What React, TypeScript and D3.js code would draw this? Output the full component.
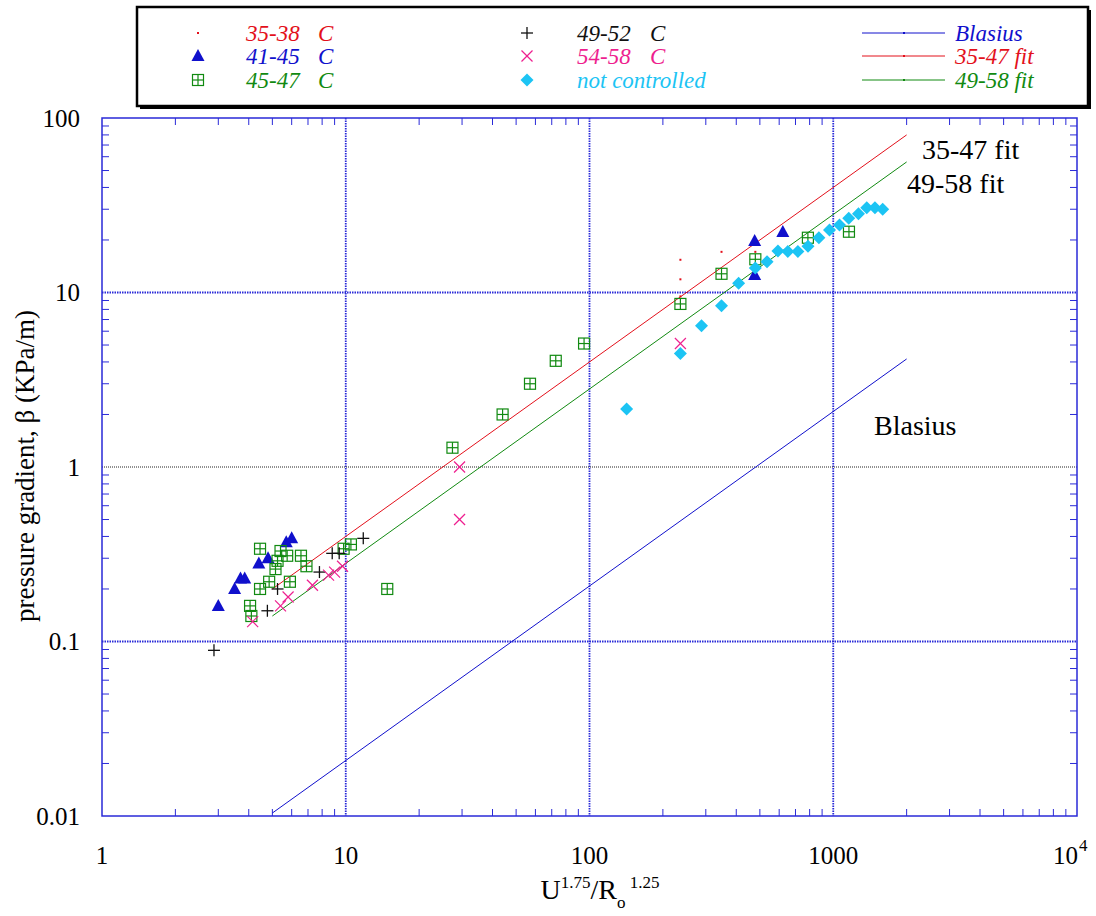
import * as d3 from 'd3';

// --- data ---
const dotX = [236, 236, 236, 348, 479];
const dotY = [15.4, 11.9, 9.5, 17.1, 17.1];

const triX = [3.0, 3.5, 3.7, 3.85, 4.4, 4.8, 5.7, 6.0, 476, 476, 621];
const triY = [0.16, 0.2, 0.23, 0.23, 0.28, 0.3, 0.37, 0.39, 19.7, 12.6, 22.2];

const sqX = [4.1, 4.05, 4.45, 4.45, 4.85, 5.15, 5.25, 5.4, 5.75, 5.9, 6.55, 6.9, 9.8, 10.5, 14.8,
  27.4, 44, 57, 72.7, 95, 236, 348, 479, 787, 1160];
const sqY = [0.14, 0.16, 0.34, 0.2, 0.22, 0.26, 0.29, 0.33, 0.31, 0.22, 0.31, 0.27, 0.34, 0.36, 0.2,
  1.29, 2.0, 3.0, 4.06, 5.1, 8.6, 12.8, 15.5, 20.6, 22.3];

const plusX = [2.88, 4.77, 5.25, 7.8, 8.8, 9.4, 11.8];
const plusY = [0.089, 0.15, 0.2, 0.25, 0.32, 0.32, 0.39];

const crossX = [4.15, 5.4, 5.8, 7.3, 8.5, 9.0, 9.7, 29.3, 29.3, 236];
const crossY = [0.13, 0.16, 0.18, 0.21, 0.24, 0.25, 0.27, 1.0, 0.5, 5.1];

const diaX = [142, 236, 288, 348, 409, 479, 535, 593, 651, 716, 788, 873, 965, 1061, 1158, 1269, 1372, 1483, 1595];
const diaY = [2.15, 4.47, 6.44, 8.4, 11.3, 13.8, 15.0, 17.3, 17.2, 17.2, 18.4, 20.6, 22.8, 24.4, 26.6, 28.3, 30.6, 30.6, 30.0];

const fitX = [5, 2000];
const fit3547 = [0.2, 80];
const fit4958 = [0.14, 56];
const blasius = [0.0104, 4.16];

const xTicks = [1, 10, 100, 1000];
const yTicks = [0.01, 0.1, 1, 10, 100];

const RED = '#e3101b';
const BLUE = '#1010cc';
const GREEN = '#118a11';
const PINK = '#ee1f8f';
const CYAN = '#1cc4f4';
const AXIS = '#2a2ad8';
const SERIF = "'Liberation Serif', 'Times New Roman', 'DejaVu Serif', serif";
const font = (size: number, italic = false) => ({ fontFamily: SERIF, fontSize: size, fontStyle: italic ? 'italic' : 'normal' });

function Marker({ type, cx, cy }: { type: string; cx: number; cy: number }) {
  if (type === 'dot') return <rect x={cx - 1} y={cy - 1} width={2} height={2} fill={RED} />;
  if (type === 'tri')
    return <polygon points={`${cx},${cy - 7} ${cx - 6.5},${cy + 5} ${cx + 6.5},${cy + 5}`} fill={BLUE} />;
  if (type === 'sq')
    return (
      <g stroke={GREEN} strokeWidth={1.2} fill="none">
        <rect x={cx - 5.5} y={cy - 5.5} width={11} height={11} />
        <line x1={cx} y1={cy - 5.5} x2={cx} y2={cy + 5.5} />
        <line x1={cx - 5.5} y1={cy} x2={cx + 5.5} y2={cy} />
      </g>
    );
  if (type === 'plus')
    return (
      <g stroke="#111" strokeWidth={1.3}>
        <line x1={cx - 6} y1={cy} x2={cx + 6} y2={cy} />
        <line x1={cx} y1={cy - 6} x2={cx} y2={cy + 6} />
      </g>
    );
  if (type === 'x')
    return (
      <g stroke={PINK} strokeWidth={1.2}>
        <line x1={cx - 5.5} y1={cy - 5.5} x2={cx + 5.5} y2={cy + 5.5} />
        <line x1={cx - 5.5} y1={cy + 5.5} x2={cx + 5.5} y2={cy - 5.5} />
      </g>
    );
  return <polygon points={`${cx},${cy - 6.5} ${cx + 6.5},${cy} ${cx},${cy + 6.5} ${cx - 6.5},${cy}`} fill={CYAN} />;
}

export default function App() {
  const L = 102, R = 1077, T = 118, B = 816;
  const x = d3.scaleLog().domain([1, 1e4]).range([L, R]);
  const y = d3.scaleLog().domain([0.01, 100]).range([B, T]);

  const minorX: number[] = [];
  [1, 10, 100, 1000].forEach(d => { for (let k = 2; k <= 9; k++) minorX.push(d * k); });
  const minorY: number[] = [];
  [0.01, 0.1, 1, 10].forEach(d => { for (let k = 2; k <= 9; k++) minorY.push(d * k); });

  const line = d3.line<number>().x((d, i) => x(fitX[i])).y(d => y(d));

  const series = [
    { type: 'dot', xs: dotX, ys: dotY },
    { type: 'tri', xs: triX, ys: triY },
    { type: 'sq', xs: sqX, ys: sqY },
    { type: 'plus', xs: plusX, ys: plusY },
    { type: 'x', xs: crossX, ys: crossY },
    { type: 'dia', xs: diaX, ys: diaY },
  ];

  const legendLeft = [
    { type: 'dot', label: '35-38', color: RED },
    { type: 'tri', label: '41-45', color: BLUE },
    { type: 'sq', label: '45-47', color: GREEN },
  ];
  const legendMid = [
    { type: 'plus', label: '49-52', color: '#111', c: true },
    { type: 'x', label: '54-58', color: PINK, c: true },
    { type: 'dia', label: 'not controlled', color: CYAN, c: false },
  ];
  const legendLines = [
    { label: 'Blasius', color: BLUE },
    { label: '35-47 fit', color: RED },
    { label: '49-58 fit', color: GREEN },
  ];
  const rowY = [33, 56, 80];

  return (
    <svg width={1096} height={916} style={{ position: 'absolute', left: 0, top: 0, background: '#fff' }}>
      {/* legend box */}
      <rect x={140} y={10} width={951} height={99} fill="#000" />
      <rect x={137} y={7} width={951} height={99} fill="#fff" stroke="#000" strokeWidth={2.5} />
      {legendLeft.map((d, i) => (
        <g key={d.label}>
          <Marker type={d.type} cx={198} cy={rowY[i]} />
          <text x={246} y={rowY[i] + 8} style={font(23, true)} fill={d.color}>{d.label}</text>
          <text x={318} y={rowY[i] + 8} style={font(23, true)} fill={d.color}>C</text>
        </g>
      ))}
      {legendMid.map((d, i) => (
        <g key={d.label}>
          <Marker type={d.type} cx={527} cy={rowY[i]} />
          <text x={577} y={rowY[i] + 8} style={font(23, true)} fill={d.color}>{d.label}</text>
          {d.c && <text x={650} y={rowY[i] + 8} style={font(23, true)} fill={d.color}>C</text>}
        </g>
      ))}
      {legendLines.map((d, i) => (
        <g key={d.label}>
          <line x1={862} x2={945} y1={rowY[i]} y2={rowY[i]} stroke={d.color} strokeWidth={1} />
          <rect x={903} y={rowY[i] - 1} width={2} height={2} fill={d.color} />
          <text x={955} y={rowY[i] + 8} style={font(23, true)} fill={d.color}>{d.label}</text>
        </g>
      ))}

      {/* grid */}
      {[10, 100, 1000].map(v => (
        <line key={'gx' + v} x1={x(v)} x2={x(v)} y1={T} y2={B} stroke={AXIS} strokeWidth={1.8} strokeDasharray="1.5,1" />
      ))}
      {[0.1, 10].map(v => (
        <line key={'gy' + v} x1={L} x2={R} y1={y(v)} y2={y(v)} stroke={AXIS} strokeWidth={1.8} strokeDasharray="1.5,1" />
      ))}
      <line x1={L} x2={R} y1={y(1)} y2={y(1)} stroke="#222" strokeWidth={1} strokeDasharray="1,1" />

      {/* minor ticks */}
      {minorX.map(v => (
        <g key={'mx' + v} stroke={AXIS} strokeWidth={1}>
          <line x1={x(v)} x2={x(v)} y1={B} y2={B - 7} />
          <line x1={x(v)} x2={x(v)} y1={T} y2={T + 7} />
        </g>
      ))}
      {minorY.map(v => (
        <g key={'my' + v} stroke={AXIS} strokeWidth={1}>
          <line x1={L} x2={L + 7} y1={y(v)} y2={y(v)} />
          <line x1={R} x2={R - 7} y1={y(v)} y2={y(v)} />
        </g>
      ))}
      <rect x={L} y={T} width={R - L} height={B - T} fill="none" stroke={AXIS} strokeWidth={1.5} />

      {/* fit lines */}
      <path d={line(blasius) || ''} fill="none" stroke={BLUE} strokeWidth={1} />
      <path d={line(fit3547) || ''} fill="none" stroke={RED} strokeWidth={1} />
      <path d={line(fit4958) || ''} fill="none" stroke={GREEN} strokeWidth={1} />

      {/* points */}
      {series.map(s => (
        <g key={s.type}>
          {s.xs.map((v, i) => <Marker key={i} type={s.type} cx={x(v)} cy={y(s.ys[i])} />)}
        </g>
      ))}

      {/* tick labels */}
      {xTicks.map(v => (
        <text key={'tx' + v} x={x(v)} y={864} style={font(25)} textAnchor="middle">{v}</text>
      ))}
      <text x={x(1e4) + 1} y={864} style={font(25)} textAnchor="end">10</text>
      <text x={x(1e4) + 2} y={851} style={font(17)}>4</text>
      {yTicks.map(v => (
        <text key={'ty' + v} x={80} y={y(v) + 8.5} style={font(25)} textAnchor="end">{v}</text>
      ))}

      {/* axis titles */}
      <text x={600} y={899} style={font(28)} textAnchor="middle">
        U<tspan style={font(17)} dy={-11}>1.75</tspan>
        <tspan style={font(28)} dy={11}>/R</tspan>
        <tspan style={font(17)} dy={9}>o</tspan>
        <tspan style={font(17)} dy={-20}> 1.25</tspan>
      </text>
      <text transform={`translate(34,466) rotate(-90)`} style={font(27)} textAnchor="middle">
        pressure gradient, β  (KPa/m)
      </text>

      {/* annotations */}
      <text x={922} y={159} style={font(28)}>35-47 fit</text>
      <text x={907} y={193} style={font(28)}>49-58 fit</text>
      <text x={874} y={435} style={font(28)}>Blasius</text>
    </svg>
  );
}
